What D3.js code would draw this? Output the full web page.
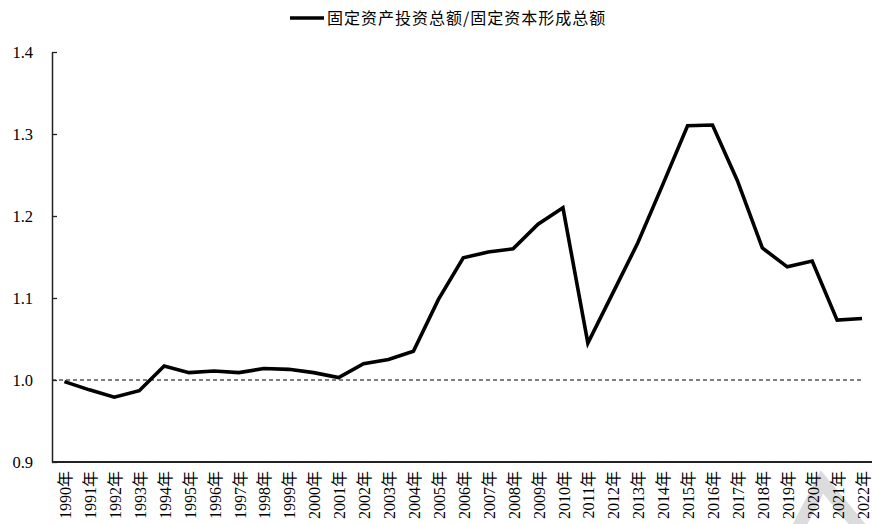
<!DOCTYPE html>
<html>
<head>
<meta charset="utf-8">
<script src="https://cdn.jsdelivr.net/npm/d3@7"></script>
<style>
  html, body { margin: 0; padding: 0; background: #fff; }
  svg { display: block; }
  .serif { font-family: "Liberation Serif", "Times New Roman", "Noto Sans CJK SC", serif; }
</style>
</head>
<body>
<svg id="chart" width="872" height="524"></svg>
<script>
// Years shown along the category axis
const years = ["1990年","1991年","1992年","1993年","1994年","1995年","1996年","1997年","1998年","1999年",
  "2000年","2001年","2002年","2003年","2004年","2005年","2006年","2007年","2008年","2009年",
  "2010年","2011年","2012年","2013年","2014年","2015年","2016年","2017年","2018年","2019年",
  "2020年","2021年","2022年"];

// Ratio: total fixed-asset investment / gross fixed capital formation
const ratio = [0.998, 0.988, 0.979, 0.987, 1.017, 1.009, 1.011, 1.009, 1.014, 1.013,
  1.009, 1.003, 1.020, 1.025, 1.035, 1.098, 1.149, 1.156, 1.160, 1.190,
  1.210, 1.045, 1.106, 1.167, 1.238, 1.310, 1.311, 1.243, 1.161, 1.138,
  1.145, 1.073, 1.075];

const yTicks = [0.9, 1.0, 1.1, 1.2, 1.3, 1.4];
const seriesName = "固定资产投资总额/固定资本形成总额";
const baseline = 1.0;

const svg = d3.select("#chart");
const plotLeft = 52, plotRight = 874.5, plotTop = 52, plotBottom = 462;

const x = d3.scaleBand().domain(years).range([plotLeft, plotRight]);
const y = d3.scaleLinear().domain([0.9, 1.4]).range([plotBottom, plotTop]);
const cx = d => x(d) + x.bandwidth() / 2;

// faint watermark stroke behind the axis labels
svg.append("path")
  .attr("d", "M797,530 L822,482 L862,530")
  .attr("fill", "none")
  .attr("stroke", "#dcdcdc")
  .attr("stroke-width", 13);

// reference line at 1.0
svg.append("line")
  .attr("x1", plotLeft).attr("x2", cx(years[years.length - 1]))
  .attr("y1", y(baseline)).attr("y2", y(baseline))
  .attr("stroke", "#000").attr("stroke-width", 1.2)
  .attr("stroke-dasharray", "4,3");

// y axis
const yAxis = d3.axisLeft(y).tickValues(yTicks).tickFormat(d3.format(".1f"))
  .tickSizeInner(-5).tickSizeOuter(0).tickPadding(19);
const gy = svg.append("g").attr("transform", `translate(${plotLeft},0)`).call(yAxis);
gy.attr("font-family", null).attr("font-size", null);
gy.select(".domain").attr("stroke", "#222").attr("stroke-width", 1.5);
gy.selectAll(".tick line").attr("stroke", "#222").attr("stroke-width", 1.3);
gy.selectAll("text")
  .attr("class", "serif")
  .style("font-size", "16.5px").attr("fill", "#000");

// x axis
const xAxis = d3.axisBottom(x).tickSize(0).tickSizeOuter(0);
const gx = svg.append("g").attr("transform", `translate(0,${plotBottom})`).call(xAxis);
gx.attr("font-family", null).attr("font-size", null);
gx.select(".domain").attr("d", `M${plotLeft},0H${plotRight}`)
  .attr("stroke", "#222").attr("stroke-width", 1.8);
gx.selectAll("text")
  .attr("class", "serif")
  .style("font-size", "16px").attr("fill", "#000")
  .attr("text-anchor", "end")
  .attr("dy", "0.35em")
  .attr("transform", "translate(1,9) rotate(-90)")
  .attr("x", 0).attr("y", 0);

// data line
const line = d3.line()
  .x((d, i) => cx(years[i]))
  .y(d => y(d));
svg.append("path")
  .datum(ratio)
  .attr("d", line)
  .attr("fill", "none")
  .attr("stroke", "#000")
  .attr("stroke-width", 3.6)
  .attr("stroke-linejoin", "miter");

// legend
const lg = svg.append("g").attr("transform", "translate(290,18)");
lg.append("line").attr("x1", 0).attr("x2", 34).attr("y1", 0).attr("y2", 0)
  .attr("stroke", "#000").attr("stroke-width", 3.6);
lg.append("text")
  .attr("x", 37).attr("y", 0).attr("dy", "0.36em")
  .style("font-family", "'Noto Sans CJK SC', sans-serif")
  .style("font-size", "16px")
  .attr("letter-spacing", 1)
  .attr("fill", "#000")
  .text(seriesName);
</script>
</body>
</html>
